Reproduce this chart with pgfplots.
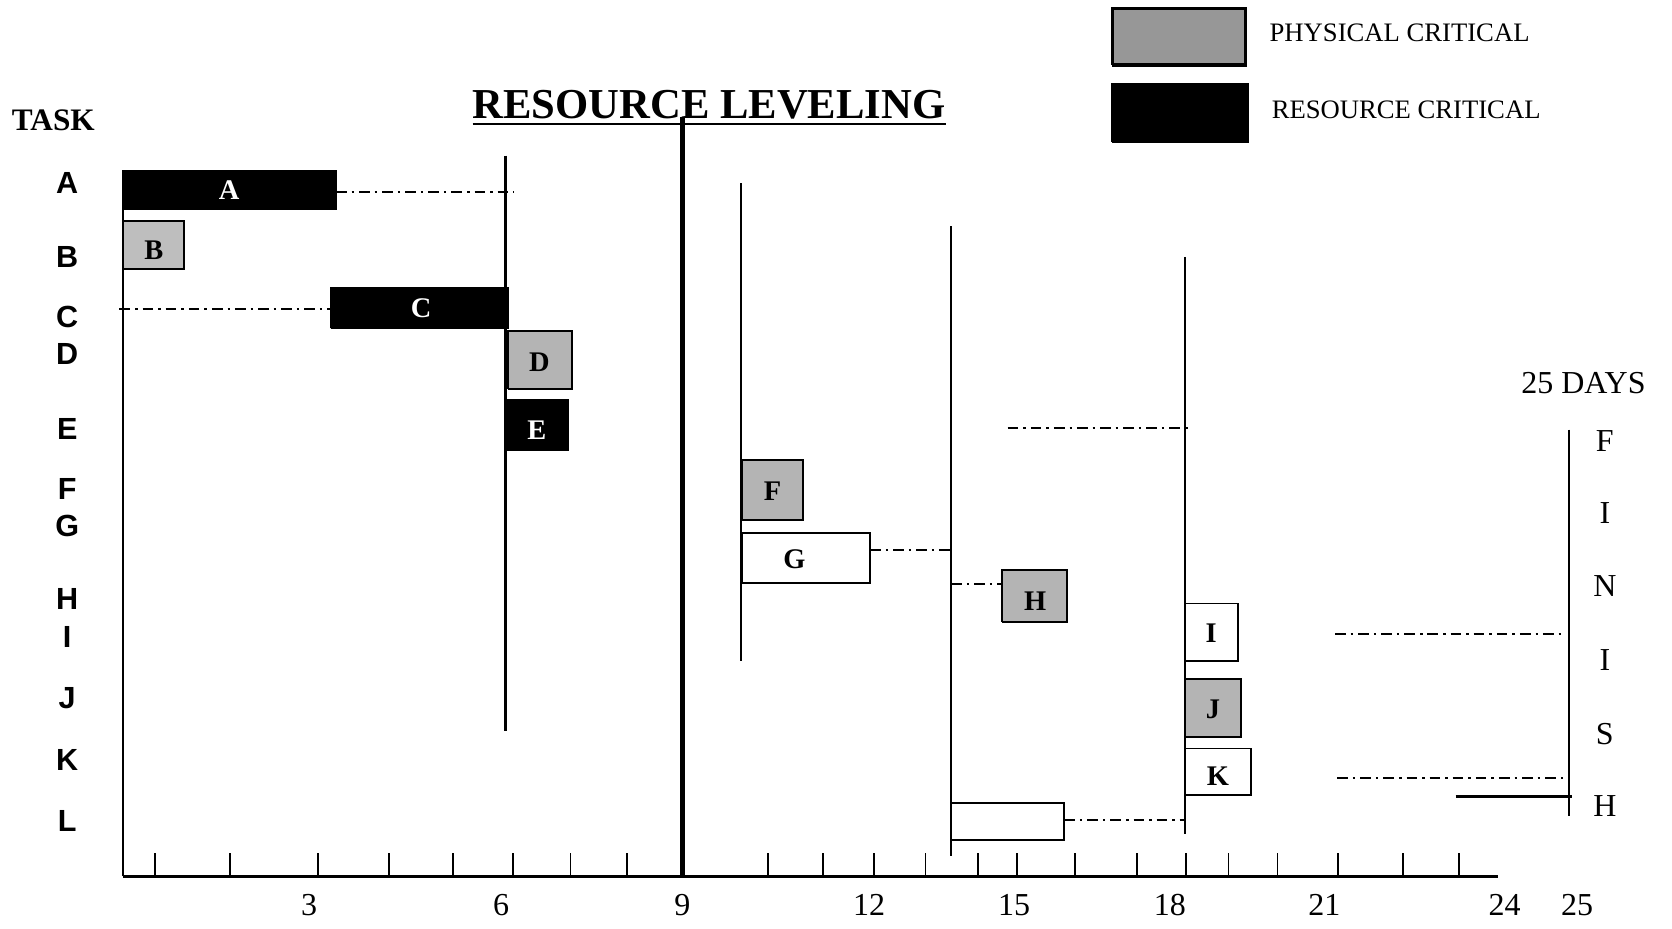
\documentclass[border=0pt]{standalone}
\usepackage{fontspec}
\setmainfont{Liberation Serif}
\newfontfamily\arial{Liberation Sans}
\usepackage{pgfplots}
\pgfplotsset{compat=1.18}
\definecolor{crit}{HTML}{B4B4B4}
\definecolor{critB}{HTML}{BEBEBE}
\definecolor{leggray}{HTML}{979797}
\tikzset{dd/.style={black, line width=0.6pt, dash pattern=on 3pt off 1.4pt on 0.7pt off 1.4pt},
  bar/.style={draw=black, line width=0.55pt},
  vl/.style={black, line width=0.6pt},
  blab/.style={font=\fontsize{8}{8}\selectfont\bfseries},
  rowlab/.style={font=\arial\fontsize{8.6}{8.6}\selectfont\bfseries},
  fin/.style={font=\fontsize{9}{9}\selectfont}}
\begin{document}
\begin{tikzpicture}
\begin{axis}[
  x=17.5pt, y=0.3pt,
  xmin=0, xmax=23.5, ymin=40, ymax=862,
  clip=false,
  axis x line=bottom, axis y line=none,
  axis line style={draw=none},
  ytick=\empty,
  xtick={3.0,6.086,9.0,12.0,14.332,16.835,19.321,22.218,23.384},
  xticklabels={3,6,9,12,15,18,21,24,25},
  minor xtick={0.514,1.732,3.137,4.286,5.315,6.275,7.200,8.109,10.372,11.264,12.086,12.909,13.749,14.384,15.310,16.304,17.092,17.778,18.567,19.544,20.590,21.481},
  major tick length=0pt, minor tick length=6.6pt,
  xtick align=inside,
  tick style={black, line width=0.5pt},
  /pgf/number format/assume math mode=true,
  xticklabel style={font=\fontsize{9}{9}\selectfont, yshift=-1.6pt},
]
% bounding region
\path (axis cs:-1.972,0) rectangle (axis cs:24.91,862);
% baseline and left axis
\addplot[black, line width=0.6pt] coordinates {(0,40) (22.115,40)};
\addplot[vl] coordinates {(0,40) (0,702)};
% task bars
\addplot[bar, fill=black] coordinates {(0,666) (3.429,666) (3.429,702) (0,702) (0,666)};
\addplot[bar, fill=critB] coordinates {(0,610) (0.994,610) (0.994,655) (0,655) (0,610)};
\addplot[bar, fill=black] coordinates {(3.343,554) (6.189,554) (6.189,592) (3.343,592) (3.343,554)};
\addplot[bar, fill=crit] coordinates {(6.189,497) (7.218,497) (7.218,552) (6.189,552) (6.189,497)};
\addplot[bar, fill=black] coordinates {(6.155,440) (7.166,440) (7.166,487) (6.155,487) (6.155,440)};
\addplot[bar, fill=crit] coordinates {(9.961,374) (10.938,374) (10.938,431) (9.961,431) (9.961,374)};
\addplot[bar, fill=white] coordinates {(9.961,315) (12.018,315) (12.018,362) (9.961,362) (9.961,315)};
\addplot[bar, fill=crit] coordinates {(14.144,279) (15.190,279) (15.190,327) (14.144,327) (14.144,279)};
\addplot[bar, fill=white] coordinates {(17.075,242) (17.933,242) (17.933,296) (17.075,296) (17.075,242)};
\addplot[bar, fill=crit] coordinates {(17.075,171) (17.984,171) (17.984,225) (17.075,225) (17.075,171)};
\addplot[bar, fill=white] coordinates {(17.075,116) (18.138,116) (18.138,160) (17.075,160) (17.075,116)};
\addplot[bar, fill=white] coordinates {(13.321,74) (15.138,74) (15.138,109) (13.321,109) (13.321,74)};
% float (dash-dot) lines
\addplot[dd] coordinates {(3.429,682) (6.292,682)};
\addplot[dd] coordinates {(-0.051,572) (3.343,572)};
\addplot[dd] coordinates {(12.018,346) (13.321,346)};
\addplot[dd] coordinates {(13.321,314) (14.144,314)};
\addplot[dd] coordinates {(15.138,93) (17.075,93)};
\addplot[dd] coordinates {(14.229,461) (17.144,461)};
\addplot[dd] coordinates {(19.493,267) (23.195,267)};
\addplot[dd] coordinates {(19.527,132) (23.264,132)};
\addplot[black, line width=0.6pt] coordinates {(21.430,115) (23.299,115)};
% vertical event lines
\addplot[vl] coordinates {(6.155,716) (6.155,176)};
\addplot[black, line width=1.3pt] coordinates {(9.0,752) (9.0,40)};
\addplot[vl] coordinates {(9.943,690) (9.943,242)};
\addplot[vl] coordinates {(13.321,650) (13.321,59)};
\addplot[vl] coordinates {(17.075,621) (17.075,80)};
\addplot[vl] coordinates {(23.247,459) (23.247,97)};
% legend swatches
\addplot[draw=black, line width=0.9pt, fill=leggray] coordinates {(15.909,801) (18.052,801) (18.052,854) (15.909,854) (15.909,801)};
\addplot[draw=black, line width=0.5pt, fill=black] coordinates {(15.909,729) (18.087,729) (18.087,783) (15.909,783) (15.909,729)};
\node[anchor=west, inner sep=0pt, font=\fontsize{7.5}{7.5}\selectfont] at (axis cs:18.43,831) {PHYSICAL CRITICAL};
\node[anchor=west, inner sep=0pt, font=\fontsize{7.5}{7.5}\selectfont] at (axis cs:18.464,759) {RESOURCE CRITICAL};
% bar labels
\node[blab, text=white] at (axis cs:1.714,684) {A};
\node[blab] at (axis cs:0.50,627) {B};
\node[blab, text=white] at (axis cs:4.80,573) {C};
\node[blab] at (axis cs:6.70,522) {D};
\node[blab, text=white] at (axis cs:6.66,459) {E};
\node[blab] at (axis cs:10.45,401) {F};
\node[blab] at (axis cs:10.80,338) {G};
\node[blab] at (axis cs:14.67,298) {H};
\node[blab] at (axis cs:17.50,268) {I};
\node[blab] at (axis cs:17.53,197) {J};
\node[blab] at (axis cs:17.61,134) {K};
% titles
\node[font=\fontsize{12}{12}\selectfont\bfseries, anchor=base] at (axis cs:9.429,751) {\underline{RESOURCE LEVELING}};
\node[font=\fontsize{8.8}{8.8}\selectfont\bfseries] at (axis cs:-1.114,749) {TASK};
% row labels
\node[rowlab] at (axis cs:-0.891,690) {A};
\node[rowlab] at (axis cs:-0.891,621) {B};
\node[rowlab] at (axis cs:-0.891,565) {C};
\node[rowlab] at (axis cs:-0.891,530) {D};
\node[rowlab] at (axis cs:-0.891,460) {E};
\node[rowlab] at (axis cs:-0.891,403) {F};
\node[rowlab] at (axis cs:-0.891,369) {G};
\node[rowlab] at (axis cs:-0.891,300) {H};
\node[rowlab] at (axis cs:-0.891,265) {I};
\node[rowlab] at (axis cs:-0.891,207) {J};
\node[rowlab] at (axis cs:-0.891,149) {K};
\node[rowlab] at (axis cs:-0.891,92) {L};
% finish
\node[fin] at (axis cs:23.487,503) {25 DAYS};
\node[fin] at (axis cs:23.830,448) {F};
\node[fin] at (axis cs:23.830,381) {I};
\node[fin] at (axis cs:23.830,312) {N};
\node[fin] at (axis cs:23.830,243) {I};
\node[fin] at (axis cs:23.830,174) {S};
\node[fin] at (axis cs:23.830,106) {H};
\end{axis}
\end{tikzpicture}
\end{document}
